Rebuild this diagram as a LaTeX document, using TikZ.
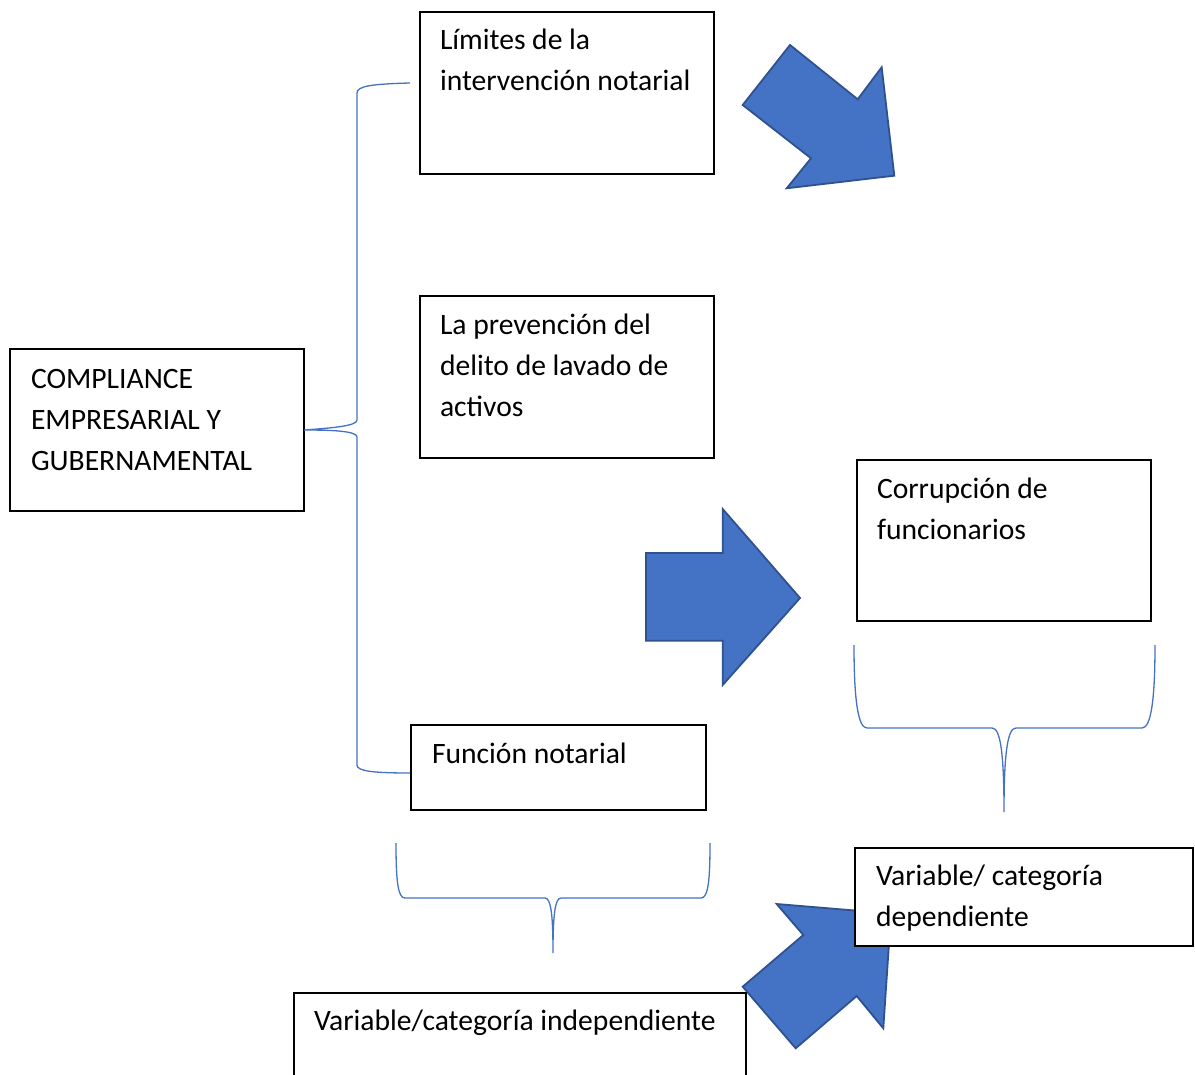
\documentclass[tikz,border=0pt]{standalone}
\usepackage{fontspec}
\setmainfont{Carlito}
\definecolor{arrowfill}{HTML}{4472C4}
\definecolor{arrowline}{HTML}{2F528F}
\definecolor{bracecol}{HTML}{4472C4}
\newcommand{\tstrut}{\rule{0pt}{30pt}}
\begin{document}
\begin{tikzpicture}[x=1pt,y=-1pt,
  box/.style={draw=black,line width=1.2pt,fill=white,anchor=north west,inner sep=0pt,outer sep=0pt},
  txt/.style={anchor=north west,inner sep=0pt,outer sep=0pt,align=left,font=\fontsize{29.6}{41}\selectfont},
  bigarrow/.style={fill=arrowfill,draw=arrowline,line width=1.8pt,line join=miter},
  brace/.style={draw=bracecol,line width=1.3pt}]
\useasboundingbox (0,0) rectangle (1195,1075);
\clip (0,0) rectangle (1195,1075);
\fill[white] (0,0) rectangle (1195,1075);

% block arrows
\path[bigarrow] (790,45) -- (857.7,99.3) -- (881.7,67.3) -- (894.3,175.7) -- (786.7,188.3) -- (811,158.3) -- (742.7,105) -- cycle;
\path[bigarrow] (646,553) -- (722.7,553) -- (722.7,509) -- (800,598) -- (722.7,685) -- (722.7,640.7) -- (646,640.7) -- cycle;
\path[bigarrow] (776.7,904) -- (891,913.5) -- (883.3,1028.3) -- (856.7,996) -- (795.7,1048.3) -- (742.7,986.7) -- (803.3,935) -- cycle;

% boxes
\node[box,minimum width=294,minimum height=162] (b1) at (420,12) {};
\node[box,minimum width=294,minimum height=162] (b2) at (420,296) {};
\node[box,minimum width=294,minimum height=162] (b3) at (10,349) {};
\node[box,minimum width=294,minimum height=161] (b4) at (857,460) {};
\node[box,minimum width=295,minimum height=85] (b5) at (411,725) {};
\node[box,minimum width=338,minimum height=98] (b6) at (855,848) {};
\node[box,minimum width=452,minimum height=110] (b7) at (294,993) {};

% texts
\node[txt] (t1) at (440,20) {\tstrut Límites de la\\intervención notarial};
\node[txt] (t2) at (440,305) {\tstrut La prevención del\\delito de lavado de\\activos};
\node[txt] (t3) at (31,358) {\tstrut COMPLIANCE\\EMPRESARIAL Y\\GUBERNAMENTAL};
\node[txt] (t4) at (877,468) {\tstrut Corrupción de\\funcionarios};
\node[txt] (t5) at (432,733) {\tstrut Función notarial};
\node[txt] (t6) at (876,855) {\tstrut Variable/ categoría\\dependiente};
\node[txt] (t7) at (314,1000) {\tstrut Variable/categoría independiente};

% braces
\coordinate (bt) at (410,83);
\coordinate (bb) at (410,773);
\coordinate (bp) at (b3.east);
\draw[brace] (bt) .. controls (372,84) and (357,86) .. (357,93) -- (357,420)
  .. controls (357,426) and (332,428) .. (bp)
  .. controls (332,430) and (357,431) .. (357,437) -- (357,765)
  .. controls (357,771) and (372,773) .. (bb);

\coordinate (c1l) at (396,843);
\coordinate (c1r) at (710,843);
\coordinate (c1p) at (553,953);
\draw[brace] (c1l) .. controls (396,882) and (398,898) .. (405,898) -- (545,898)
  .. controls (551,898) and (553,915) .. (c1p)
  .. controls (553,915) and (555,898) .. (561,898) -- (701,898)
  .. controls (708,898) and (710,882) .. (c1r);

\coordinate (c2l) at (854,645);
\coordinate (c2r) at (1155,645);
\coordinate (c2p) at (1004,812);
\draw[brace] (c2l) .. controls (854,700) and (858,728) .. (867,728) -- (992,728)
  .. controls (1000,728) and (1004,750) .. (c2p)
  .. controls (1004,750) and (1008,728) .. (1016,728) -- (1142,728)
  .. controls (1151,728) and (1155,700) .. (c2r);
\end{tikzpicture}
\end{document}
